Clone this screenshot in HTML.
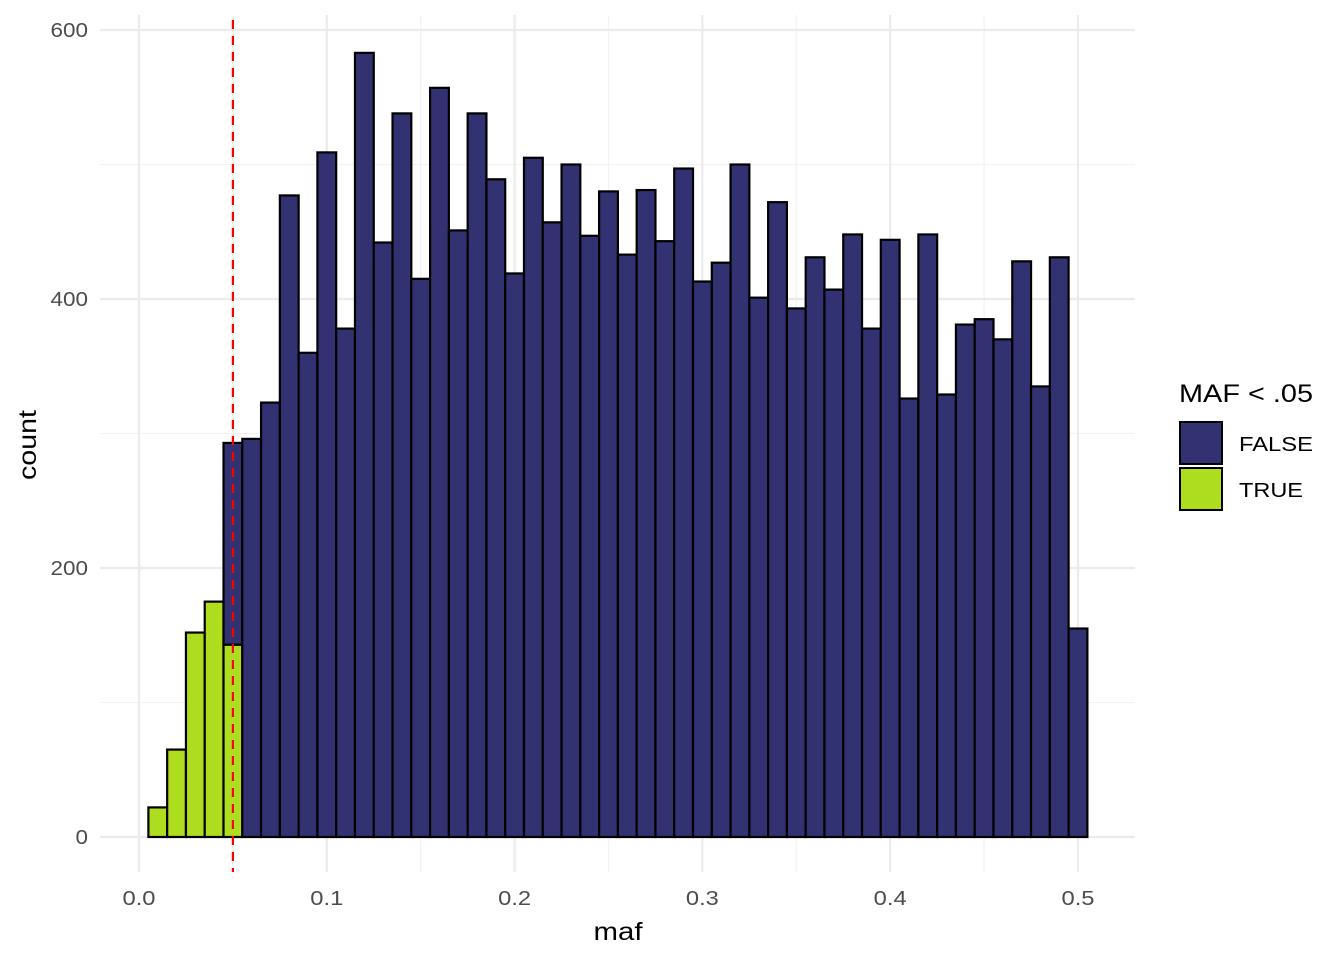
<!DOCTYPE html>
<html><head><meta charset="utf-8"><style>
html,body{margin:0;padding:0;background:#fff;}
svg{display:block;font-family:"Liberation Sans",Arial,sans-serif;}
</style></head><body>
<svg id="chart" width="1344" height="960" viewBox="0 0 1344 960" xmlns="http://www.w3.org/2000/svg">
<g id="grid"></g>
<g id="bars"></g>
<g id="ref"></g>
<g id="axes"></g>
<text x="618" y="940" font-size="25" text-anchor="middle" fill="#000" textLength="49" lengthAdjust="spacingAndGlyphs">maf</text>
<text transform="translate(36,445) rotate(-90)" font-size="25" text-anchor="middle" fill="#000" textLength="70" lengthAdjust="spacingAndGlyphs">count</text>
<g>
<text x="1179" y="402" font-size="25" fill="#000" textLength="134" lengthAdjust="spacingAndGlyphs">MAF &lt; .05</text>
<rect x="1180" y="422" width="42" height="42" fill="#323172" stroke="#000" stroke-width="2"/>
<text x="1239" y="451" font-size="20" fill="#000" textLength="74" lengthAdjust="spacingAndGlyphs">FALSE</text>
<rect x="1180" y="468" width="42" height="42" fill="#addd1e" stroke="#000" stroke-width="2"/>
<text x="1239" y="497" font-size="20" fill="#000" textLength="64" lengthAdjust="spacingAndGlyphs">TRUE</text>
</g>
</svg>
<script>
const binCenters = [0.01,0.02,0.03,0.04,0.05,0.06,0.07,0.08,0.09,0.10,0.11,0.12,0.13,0.14,0.15,0.16,0.17,0.18,0.19,0.20,0.21,0.22,0.23,0.24,0.25,0.26,0.27,0.28,0.29,0.30,0.31,0.32,0.33,0.34,0.35,0.36,0.37,0.38,0.39,0.40,0.41,0.42,0.43,0.44,0.45,0.46,0.47,0.48,0.49,0.50];
const trueCounts = [22,65,152,175,143,0,0,0,0,0,0,0,0,0,0,0,0,0,0,0,0,0,0,0,0,0,0,0,0,0,0,0,0,0,0,0,0,0,0,0,0,0,0,0,0,0,0,0,0,0];
const falseCounts = [0,0,0,0,150,296,323,477,360,509,378,583,442,538,415,557,451,538,489,419,505,457,500,447,480,433,481,443,497,413,427,500,401,472,393,431,407,448,378,444,326,448,329,381,385,370,428,335,431,155];
const xTicks = [0,0.1,0.2,0.3,0.4,0.5];
const xTickLabels = ["0.0","0.1","0.2","0.3","0.4","0.5"];
const yTicks = [0,200,400,600];
const yTickLabels = ["0","200","400","600"];
const binWidth = 0.01;
const threshold = 0.05;

const NS="http://www.w3.org/2000/svg";
const X = v => 139 + v*1878;
const Y = v => 837 - v*1.345;
function mk(tag, attrs, parent){const e=document.createElementNS(NS,tag);for(const k in attrs)e.setAttribute(k,attrs[k]);parent.appendChild(e);return e;}
const grid=document.getElementById('grid'), bars=document.getElementById('bars'), axes=document.getElementById('axes'), ref=document.getElementById('ref');
const L=100,R=1135,T=15,B=872;
for(let i=0;i<xTicks.length-1;i++){const v=(xTicks[i]+xTicks[i+1])/2;
 const l=mk('line',{x1:X(v),x2:X(v),y1:T,y2:B,stroke:'#f2f2f2','stroke-width':1.2},grid);
 
 }
for(let i=0;i<yTicks.length-1;i++){const v=(yTicks[i]+yTicks[i+1])/2;
 const l=mk('line',{x1:L,x2:R,y1:Y(v),y2:Y(v),stroke:'#f2f2f2','stroke-width':1.2},grid);
 
 }
xTicks.forEach((v,i)=>{
 const l=mk('line',{x1:X(v),x2:X(v),y1:T,y2:B,stroke:'#ebebeb','stroke-width':2.2},grid);
 
 
 const t=mk('text',{x:X(v),y:905,'font-size':20,'text-anchor':'middle',fill:'#4d4d4d',textLength:33,lengthAdjust:'spacingAndGlyphs'},axes);
 t.textContent=xTickLabels[i];
 
 
});
yTicks.forEach((v,i)=>{
 const l=mk('line',{x1:L,x2:R,y1:Y(v),y2:Y(v),stroke:'#ebebeb','stroke-width':2.2},grid);
 
 
 const t=mk('text',{x:88,y:Y(v)+7,'font-size':20,'text-anchor':'end',fill:'#4d4d4d',textLength:12.5*yTickLabels[i].length,lengthAdjust:'spacingAndGlyphs'},axes);
 t.textContent=yTickLabels[i];
 
 
});
binCenters.forEach((c,i)=>{
 const x0=X(c-binWidth/2), w=X(c+binWidth/2)-x0;
 const tc=trueCounts[i], fc=falseCounts[i];
 if(tc>0){const r=mk('rect',{x:x0,y:Y(tc),width:w,height:Y(0)-Y(tc),fill:'#addd1e',stroke:'#000','stroke-width':2.2},bars);
  
  }
 if(fc>0){const r=mk('rect',{x:x0,y:Y(tc+fc),width:w,height:Y(tc)-Y(tc+fc),fill:'#323172',stroke:'#000','stroke-width':2.2},bars);
  
  }
});
const dl=mk('line',{x1:X(threshold),x2:X(threshold),y1:T+5,y2:B,stroke:'#ff0000','stroke-width':2.2,'stroke-dasharray':'9,7'},ref);


</script>
</body></html>
